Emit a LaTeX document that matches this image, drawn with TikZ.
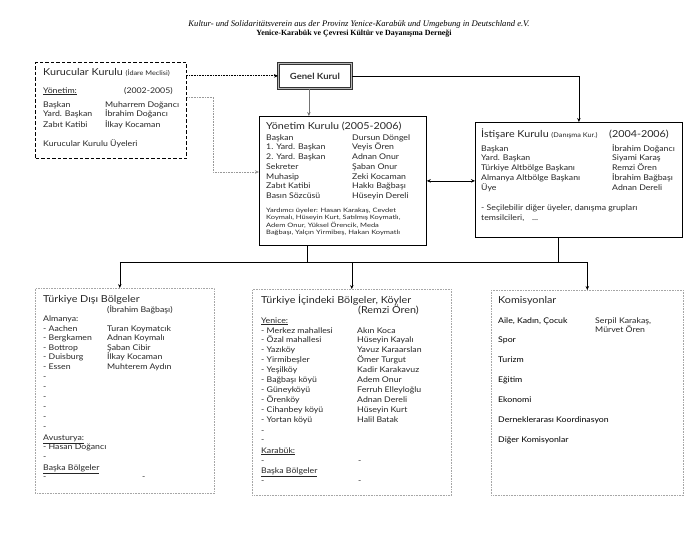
\documentclass[tikz,border=0pt]{standalone}
\usepackage{fontspec}
\setmainfont{Lato}[FakeStretch=1.12]
\newfontfamily\ttlserif{Liberation Serif}
\newfontfamily\widesans{Lato}[FakeStretch=1.25]
\usetikzlibrary{arrows.meta,positioning,calc}

\tikzset{
  txt/.style={anchor=base west, inner sep=0pt, text=black!85, font=\fontsize{7.8}{9}\selectfont},
  hdr/.style={txt, font=\fontsize{9.6}{11}\selectfont},
  small/.style={txt, font=\widesans\fontsize{6}{7}\selectfont},
  plainbox/.style={draw, line width=0.8pt, anchor=north west, inner sep=0pt},
  dashbox/.style={draw, line width=1.3pt, dash pattern=on 3.5pt off 2pt, anchor=north west, inner sep=0pt},
  dotbox/.style={draw=gray!70, densely dotted, line width=0.6pt, anchor=north west, inner sep=0pt},
  link/.style={-{Stealth[length=4pt,width=3.5pt]}, line width=0.6pt},
}

\begin{document}
\begin{tikzpicture}[x=1pt, y=-1pt]
  \useasboundingbox (0,0) rectangle (692,532);

  % heading
  \node[inner sep=0pt, anchor=base, font=\ttlserif\itshape\fontsize{8.6}{9}\selectfont] (head1) at (359,27)
    {Kultur- und Solidaritätsverein aus der Provinz Yenice-Karabük und Umgebung in Deutschland e.V.};
  \node[inner sep=0pt, anchor=base, font=\ttlserif\bfseries\fontsize{7.9}{9}\selectfont] (head2) at (354,36)
    {Yenice-Karabük ve Çevresi Kültür ve Dayanışma Derneği};

  % boxes
  \node[dashbox, minimum width=151pt, minimum height=96pt] (kurucu) at (35,62) {};
  \node[draw=black!80, line width=0.8pt, double=gray!55, double distance=1.2pt,
        minimum width=73pt, minimum height=25pt, anchor=north west,
        font=\bfseries\fontsize{8.5}{10}\selectfont, text=black!80] (genel) at (278,63) {Genel Kurul};
  \node[plainbox, minimum width=167pt, minimum height=129pt] (yonetim) at (259,116) {};
  \node[plainbox, minimum width=207pt, minimum height=115pt] (istisare) at (475,122) {};
  \node[dotbox, minimum width=179pt, minimum height=205pt] (disi) at (35,288) {};
  \node[dotbox, minimum width=199pt, minimum height=206pt] (icinde) at (252,289) {};
  \node[dotbox, minimum width=192pt, minimum height=205pt] (komisyon) at (491,290) {};

  % Kurucular Kurulu
  \node[hdr] (kk-t) at (43,76) {Kurucular Kurulu {\fontsize{6.5}{7}\selectfont(İdare Meclisi)}};
  \node[txt] (kk-y) at (43,93) {\underline{Yönetim:}};
  \node[txt] (kk-d) at (124,93) {(2002-2005)};
  \foreach \role/\name [count=\i from 0] in {Başkan/Muharrem Doğancı, Yard. Başkan/İbrahim Doğancı, Zabıt Katibi/İlkay Kocaman} {
    \node[txt] (kk-r\i) at (43,{107+10*\i}) {\role};
    \node[txt] (kk-n\i) at (105,{107+10*\i}) {\name};
  }
  \node[txt] (kk-u) at (43,146) {Kurucular Kurulu Üyeleri};

  % Yonetim Kurulu
  \node[hdr] (yk-t) at (266,129) {Yönetim Kurulu (2005-2006)};
  \foreach \role/\name [count=\i from 0] in {Başkan/Dursun Döngel, 1. Yard. Başkan/Veyis Ören, 2. Yard. Başkan/Adnan Onur,
      Sekreter/Şaban Onur, Muhasip/Zeki Kocaman, Zabıt Katibi/Hakkı Bağbaşı, Basın Sözcüsü/Hüseyin Dereli} {
    \node[txt] (yk-r\i) at (266,{140+9.75*\i}) {\role};
    \node[txt] (yk-n\i) at (352,{140+9.75*\i}) {\name};
  }
  \foreach \line [count=\i from 0] in {{Yardımcı üyeler: Hasan Karakaş, Cevdet}, {Koymalı, Hüseyin Kurt, Satılmış Koymatlı,},
      {Adem Onur, Yüksel Örencik, Meda}, {Bağbaşı, Yalçın Yirmibeş, Hakan Koymatlı}}
    \node[small] (yk-p\i) at (266,{212.7+7.2*\i}) {\line};

  % Istisare Kurulu
  \node[hdr] (ik-t) at (481,137) {İstişare Kurulu {\fontsize{6.5}{7}\selectfont(Danışma Kur.)}};
  \node[hdr] (ik-d) at (609,137) {(2004-2006)};
  \foreach \role/\name [count=\i from 0] in {Başkan/İbrahim Doğancı, Yard. Başkan/Siyami Karaş, Türkiye Altbölge Başkanı/Remzi Ören,
      Almanya Altbölge Başkanı/İbrahim Bağbaşı, Üye/Adnan Dereli} {
    \node[txt] (ik-r\i) at (481,{151+9.75*\i}) {\role};
    \node[txt] (ik-n\i) at (612,{151+9.75*\i}) {\name};
  }
  \node[txt] (ik-p0) at (481,210.7) {- Seçilebilir diğer üyeler, danışma grupları};
  \node[txt] (ik-p1) at (481,220) {temsilcileri,\quad ...};

  % Turkiye Disi Bolgeler
  \node[hdr] (db-t) at (43,302) {Türkiye Dışı Bölgeler};
  \node[txt] (db-s) at (107,312) {(İbrahim Bağbaşı)};
  \node[txt] (db-a) at (43,321) {Almanya:};
  \foreach \town/\name [count=\i from 0] in {Aachen/Turan Koymatcık, Bergkamen/Adnan Koymalı, Bottrop/Şaban Cibir,
      Duisburg/İlkay Kocaman, Essen/Muhterem Aydın} {
    \node[txt] (db-r\i) at (43,{331+9.65*\i}) {- \town};
    \node[txt] (db-n\i) at (107,{331+9.65*\i}) {\name};
  }
  \foreach \i in {0,...,5}
    \node[txt] (db-x\i) at (43,{379.5+9.9*\i}) {-};
  \node[txt] (db-v) at (43,440) {\underline{Avusturya:}};
  \node[txt] (db-h) at (43,449.5) {- Hasan Doğancı};
  \node[txt] (db-h2) at (43,459) {-};
  \node[txt] (db-b) at (43,470) {\underline{Başka Bölgeler}};
  \node[txt] (db-e1) at (43,479.5) {-};
  \node[txt] (db-e2) at (142,479.5) {-};

  % Turkiye Icindeki Bolgeler
  \node[hdr] (ib-t) at (261,303) {Türkiye İçindeki Bölgeler, Köyler};
  \node[hdr] (ib-s) at (358,313) {(Remzi Ören)};
  \node[txt] (ib-y) at (261,323) {\underline{Yenice:}};
  \foreach \place/\name [count=\i from 0] in {Merkez mahallesi/Akın Koca, Özal mahallesi/Hüseyin Kayalı, Yazıköy/Yavuz Karaarslan,
      Yirmibeşler/Ömer Turgut, Yeşilköy/Kadir Karakavuz, Bağbaşı köyü/Adem Onur, Güneyköyü/Ferruh Elleyloğlu,
      Örenköy/Adnan Dereli, Cihanbey köyü/Hüseyin Kurt, Yortan köyü/Halil Batak} {
    \node[txt] (ib-r\i) at (261,{333+9.95*\i}) {- \place};
    \node[txt] (ib-n\i) at (357,{333+9.95*\i}) {\name};
  }
  \node[txt] (ib-x0) at (261,433) {-};
  \node[txt] (ib-x1) at (261,442.5) {-};
  \node[txt] (ib-k) at (261,453) {\underline{Karabük:}};
  \node[txt] (ib-k1) at (261,463) {-};
  \node[txt] (ib-k2) at (358,463) {-};
  \node[txt] (ib-b) at (261,473) {\underline{Başka Bölgeler}};
  \node[txt] (ib-b1) at (261,483) {-};
  \node[txt] (ib-b2) at (358,483) {-};

  % Komisyonlar
  \node[hdr] (ko-t) at (498,303) {Komisyonlar};
  \foreach \kom [count=\i from 0] in {{Aile, Kadın, Çocuk}, Spor, Turizm, Eğitim, Ekonomi, Derneklerarası Koordinasyon, Diğer Komisyonlar}
    \node[txt, text=black] (ko-r\i) at (498,{323+19.85*\i}) {\kom};
  \node[txt] (ko-n0) at (595,323) {Serpil Karakaş,};
  \node[txt] (ko-n1) at (595,332) {Mürvet Ören};

  % connectors
  \draw[link, densely dotted, line width=0.9pt] (kurucu.east |- genel.west) -- (genel.west);
  \draw[link, densely dotted, draw=gray!80] ([yshift=-35pt]kurucu.north east) -- ++(26,0) |- ([yshift=-56pt]yonetim.north west);
  \draw[link, draw=gray!90!black] ([xshift=-6pt]genel.south) -- ([xshift=-6pt]genel.south |- yonetim.north);
  \draw[link] (genel.east) -| (istisare.north);
  \draw[{Stealth[length=4pt,width=3.5pt]}-{Stealth[length=4pt,width=3.5pt]}, line width=0.6pt] (yonetim.east) -- (yonetim.east -| istisare.west);

  \coordinate (bus) at (0,262);
  \draw[line width=0.6pt] ([xshift=-36pt]yonetim.south) -- ([xshift=-36pt]yonetim.south |- bus);
  \draw[line width=0.6pt] ([xshift=-21pt]istisare.south) -- ([xshift=-21pt]istisare.south |- bus);
  \draw[line width=0.6pt] ([xshift=-5pt]disi.north |- bus) -- (komisyon.north |- bus);
  \draw[link] ([xshift=-5pt]disi.north |- bus) -- ([xshift=-5pt]disi.north);
  \draw[link] (icinde.north |- bus) -- (icinde.north);
  \draw[link] (komisyon.north |- bus) -- (komisyon.north);
\end{tikzpicture}
\end{document}
